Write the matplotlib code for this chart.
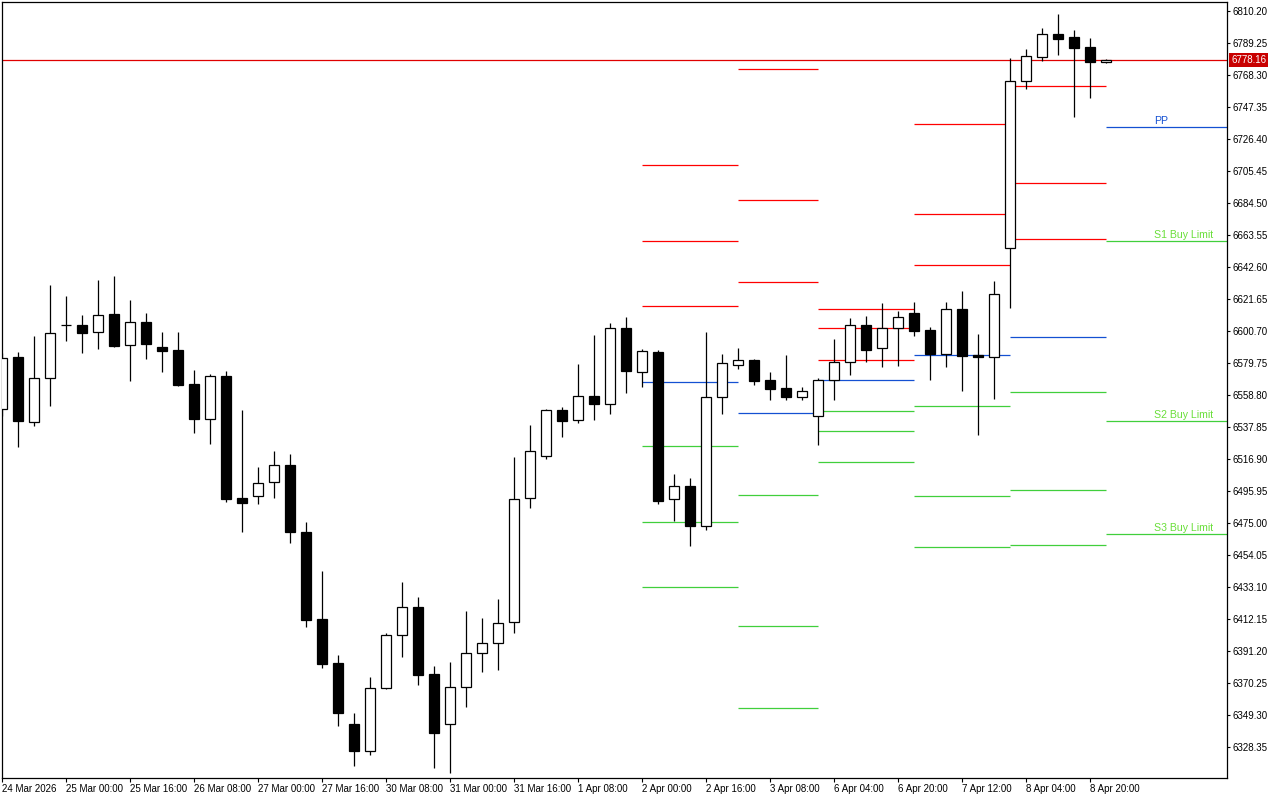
import numpy as np
import matplotlib.pyplot as plt
from matplotlib.transforms import blended_transform_factory

# H4 candles, 24 Mar 2026 08:00 .. 9 Apr 2026 00:00
opens = [6549.6, 6583.5, 6540.9, 6569.7, 6604.4, 6604.4, 6599.9, 6611.8, 6591.3, 6606.4,
         6590.2, 6588.3, 6566.0, 6543.3, 6571.2, 6491.4, 6492.5, 6501.6, 6512.8, 6469.1,
         6412.0, 6383.3, 6343.2, 6325.9, 6366.8, 6401.5, 6419.8, 6375.9, 6343.2, 6367.4,
         6389.7, 6396.2, 6410.0, 6491.2, 6518.7, 6548.8, 6542.2, 6558.0, 6552.7, 6602.5,
         6573.7, 6586.8, 6490.5, 6499.0, 6473.2, 6557.3, 6578.2, 6581.5, 6568.4, 6563.2,
         6557.3, 6544.9, 6568.4, 6580.2, 6604.4, 6589.4, 6602.5, 6612.3, 6601.4, 6585.9,
         6614.9, 6584.7, 6583.6, 6654.8, 6764.2, 6779.9, 6795.1, 6793.0, 6786.4, 6776.6]
highs = [6586.5, 6586.8, 6597.4, 6630.8, 6623.6, 6611.2, 6634.1, 6636.7, 6621.0, 6612.3,
         6600.0, 6600.0, 6575.2, 6572.6, 6574.5, 6549.0, 6511.7, 6522.1, 6520.2, 6475.7,
         6443.6, 6388.6, 6350.6, 6374.2, 6403.2, 6436.4, 6426.6, 6381.4, 6384.0, 6417.4,
         6412.8, 6425.2, 6518.2, 6539.2, 6549.8, 6550.9, 6579.1, 6598.1, 6605.9, 6609.9,
         6588.9, 6588.3, 6507.1, 6504.3, 6599.9, 6585.6, 6589.4, 6582.2, 6573.7, 6584.8,
         6563.8, 6569.7, 6595.3, 6609.2, 6610.5, 6619.0, 6613.8, 6619.7, 6603.3, 6619.7,
         6626.9, 6598.7, 6633.4, 6779.2, 6785.1, 6799.1, 6808.2, 6797.8, 6792.5, 6778.5]
lows = [6545.0, 6525.0, 6538.7, 6551.8, 6594.2, 6586.5, 6589.1, 6590.4, 6568.2, 6582.6,
        6574.1, 6564.9, 6534.1, 6526.9, 6488.9, 6469.3, 6487.6, 6491.6, 6462.1, 6407.1,
        6380.3, 6342.3, 6316.1, 6323.3, 6366.5, 6387.5, 6369.1, 6314.8, 6311.1, 6354.7,
        6377.6, 6379.0, 6403.3, 6485.0, 6517.1, 6531.5, 6540.7, 6542.6, 6546.6, 6560.3,
        6564.2, 6487.6, 6476.5, 6460.1, 6470.6, 6546.6, 6576.0, 6565.5, 6555.7, 6555.7,
        6555.7, 6526.3, 6555.7, 6572.1, 6580.6, 6577.3, 6578.0, 6597.6, 6568.9, 6577.3,
        6561.6, 6532.9, 6556.4, 6616.0, 6759.3, 6777.7, 6781.6, 6741.0, 6753.4, 6776.3]
closes = [6583.0, 6541.6, 6569.7, 6599.2, 6604.4, 6599.6, 6611.0, 6591.1, 6606.4, 6592.4,
          6587.8, 6565.5, 6543.3, 6571.0, 6490.9, 6488.3, 6501.0, 6512.8, 6468.8, 6411.7,
          6382.9, 6350.8, 6325.9, 6366.8, 6401.5, 6419.8, 6375.7, 6337.7, 6367.4, 6389.7,
          6396.2, 6409.3, 6490.5, 6521.9, 6548.8, 6542.0, 6558.0, 6552.7, 6602.5, 6574.7,
          6587.4, 6489.6, 6499.0, 6473.2, 6557.3, 6579.6, 6581.5, 6568.2, 6562.9, 6557.7,
          6561.2, 6568.4, 6580.2, 6604.4, 6588.5, 6602.5, 6609.7, 6600.9, 6585.9, 6614.9,
          6584.1, 6583.4, 6624.7, 6764.2, 6780.5, 6794.9, 6792.1, 6786.2, 6777.0, 6778.16]

# daily pivot levels: (first bar, last bar) and R3, R2, R1, PP, S1, S2, S3
pivot_days = [(40, 46), (46, 51), (51, 57), (57, 63), (63, 69)]
r3 = [6709.4, 6772.2, 6615.1, 6736.2, 6761.1]
r2 = [6659.6, 6686.5, 6602.7, 6677.3, 6697.6]
r1 = [6617.1, 6632.8, 6581.7, 6643.9, 6660.9]
pp = [6567.3, 6547.0, 6568.6, 6585.0, 6596.8]
s1 = [6525.4, 6493.3, 6548.3, 6551.6, 6560.8]
s2 = [6475.7, 6407.6, 6535.2, 6492.7, 6496.6]
s3 = [6433.1, 6353.9, 6514.9, 6459.3, 6460.6]

# today's levels (9 Apr), drawn to the right edge with labels
today_start = 69
today_levels = [6734.25, 6659.6, 6541.8, 6467.8]
today_names = ["PP", "S1 Buy Limit", "S2 Buy Limit", "S3 Buy Limit"]

bid = 6778.16

price_ticks = [6328.35, 6349.30, 6370.25, 6391.20, 6412.15, 6433.10, 6454.05, 6475.00,
               6495.95, 6516.90, 6537.85, 6558.80, 6579.75, 6600.70, 6621.65, 6642.60,
               6663.55, 6684.50, 6705.45, 6726.40, 6747.35, 6768.30, 6789.25, 6810.20]
time_labels = ["24 Mar 2026", "25 Mar 00:00", "25 Mar 16:00", "26 Mar 08:00", "27 Mar 00:00",
               "27 Mar 16:00", "30 Mar 08:00", "31 Mar 00:00", "31 Mar 16:00", "1 Apr 08:00",
               "2 Apr 00:00", "2 Apr 16:00", "3 Apr 08:00", "6 Apr 04:00", "6 Apr 20:00",
               "7 Apr 12:00", "8 Apr 04:00", "8 Apr 20:00"]

RED = "#ff0000"
BLUE = "#1450d2"
GREEN = "#40cf3c"
LABEL_GREEN = "#6adf3a"

plt.rcParams['font.family'] = ['Liberation Sans', 'DejaVu Sans']

fig = plt.figure(figsize=(12.8, 8), dpi=100)
ax = fig.add_axes([2 / 1280, 22 / 800, 1225 / 1280, 776 / 800])

n = len(opens)
x = np.arange(n)
o = np.array(opens)
c = np.array(closes)
up = c >= o

# wicks
ax.vlines(x, lows, highs, color="black", lw=0.9, zorder=3)
# bodies
ax.bar(x[up], (c - o)[up], bottom=o[up], width=0.6, facecolor="white",
       edgecolor="black", lw=0.9, zorder=4)
ax.bar(x[~up], (o - c)[~up], bottom=c[~up], width=0.6, facecolor="black",
       edgecolor="black", lw=0.9, zorder=4)

# pivot segments per day
for k, (a, b) in enumerate(pivot_days):
    for lvl, col in [(r3[k], RED), (r2[k], RED), (r1[k], RED), (pp[k], BLUE),
                     (s1[k], GREEN), (s2[k], GREEN), (s3[k], GREEN)]:
        ax.hlines(lvl, a, b, color=col, lw=0.9, zorder=2)

x_right = (1227 - 2) / 16
for lvl, name in zip(today_levels, today_names):
    col = BLUE if name == "PP" else GREEN
    ax.hlines(lvl, today_start, x_right, color=col, lw=0.9, zorder=2)
    ax.text(72, lvl + 0.8, name, color=BLUE if name == "PP" else LABEL_GREEN,
            fontsize=7.6, ha="left", va="bottom", zorder=5)

# bid line and price tag
ax.axhline(bid, color="#e00000", lw=0.9, zorder=2)
trans = blended_transform_factory(ax.transAxes, ax.transData)
ax.text(1.0 + 4 / 1225, bid, f"{bid:.2f}", transform=trans, color="white",
        fontsize=7, ha="left", va="center", zorder=6, clip_on=False,
        bbox=dict(boxstyle="square,pad=0.18", facecolor="#c80000", edgecolor="none"))

ax.set_xlim(0, x_right)
ax.set_ylim(6308.05, 6816.09)

ax.yaxis.tick_right()
ax.set_yticks(price_ticks)
ax.set_yticklabels([f"{p:.2f}" for p in price_ticks])
ax.tick_params(axis="y", direction="out", length=2.5, width=0.8, pad=1.5, labelsize=7)

ax.set_xticks(np.arange(0, 4 * len(time_labels), 4))
ax.set_xticklabels(time_labels, ha="left")
ax.tick_params(axis="x", direction="out", length=3, width=0.8, pad=1.5, labelsize=7)

for sp in ax.spines.values():
    sp.set_linewidth(0.9)

fig.savefig("out.png", dpi=100, facecolor="white")
